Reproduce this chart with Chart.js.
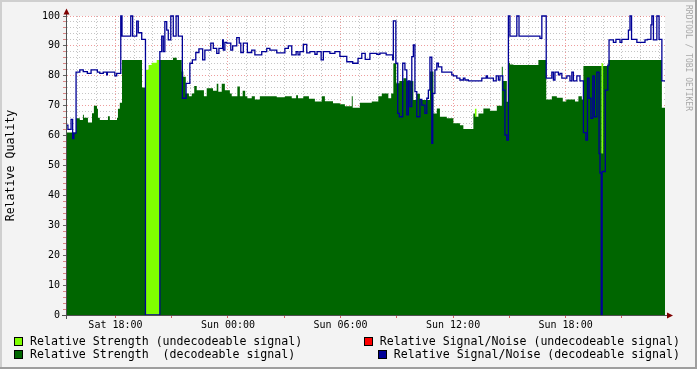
<!DOCTYPE html>
<html><head><meta charset="utf-8">
<script src="https://cdn.jsdelivr.net/npm/chart.js@4/dist/chart.umd.min.js"></script>
<style>
html,body{margin:0;padding:0;background:#F3F3F3;}
#wrap{position:relative;width:697px;height:369px;overflow:hidden;font-family:'DejaVu Sans Mono',monospace;}
canvas{position:absolute;left:0;top:0;}
.leg{position:absolute;display:flex;align-items:center;font-size:11.6px;line-height:13px;white-space:pre;color:#000;}
.box{width:7px;height:7px;border:1px solid #000;margin-right:7px;flex:none;}
#wm{position:absolute;left:684px;top:5px;writing-mode:vertical-rl;font-size:8px;line-height:8px;color:#A8A8A8;white-space:pre;}
</style></head><body>
<div id="wrap"><canvas id="c" width="697" height="369"></canvas>
<div class="leg" style="left:14px;top:335px"><span class="box" style="background:#7FFF00"></span>Relative Strength (undecodeable signal)</div>
<div class="leg" style="left:14px;top:348px"><span class="box" style="background:#006600"></span>Relative Strength  (decodeable signal)</div>
<div class="leg" style="right:17px;top:335px"><span class="box" style="background:#FF0000"></span>Relative Signal/Noise (undecodeable signal)</div>
<div class="leg" style="right:17px;top:348px"><span class="box" style="background:#000096"></span>Relative Signal/Noise (decodeable signal)</div>
<div id="wm">RRDTOOL / TOBI OETIKER</div>
</div>
<script>
// time in minutes since Sat 00:00
const X_MIN = 925, X_MAX = 2838;
const xTickMinutes = [1080, 1440, 1800, 2160, 2520];
const xTickLabels = ['Sat 18:00', 'Sun 00:00', 'Sun 06:00', 'Sun 12:00', 'Sun 18:00'];

const strengthUndecTimes  = [925, 1176, 1186, 1196, 1212, 1222, 2230, 2235, 2635, 2640];
const strengthUndecValues = [0,   82,   83.6, 84.4, 85.3, 0,    69,   0,    84.2, 0];

const strengthDecTimes = [925,954,966,976,979,992,1005,1011,1021,1024,1030,1056,1062,1085,1088,1094,1101,1165,1176,1222,1264,1276,1292,1297,1305,1315,1324,1332,1340,1363,1372,1392,1404,1409,1420,1430,1446,1452,1470,1478,1487,1495,1502,1516,1526,1542,1596,1622,1644,1658,1664,1681,1699,1718,1740,1750,1776,1798,1814,1836,1839,1862,1900,1921,1932,1953,1962,1969,1978,1988,2001,2012,2033,2044,2054,2086,2097,2108,2118,2140,2161,2182,2193,2225,2230,2241,2257,2278,2300,2316,2319,2332,2337,2342,2353,2433,2458,2476,2492,2511,2522,2550,2561,2572,2577,2635,2640,2657,2828];
const strengthDecValues = [61,65.8,65.2,67,66,64.4,67.5,70,69,66,65.2,66.5,65.2,66,69,71,85.3,76.1,0,85.3,86,85.3,81.4,79.7,74.1,73.2,74.1,76.6,75.2,73.2,75.8,75,77.3,74.7,77.3,75.2,74.1,73.2,76.4,73.2,75,73.2,72.5,73.2,72.1,73.2,72.8,73.2,72.5,73.5,72.5,73.2,72.3,71.4,73.2,71.5,70.8,70.5,69.8,73.2,69.3,71,71.4,73.2,74.1,72.5,74.1,84.2,77.5,78.3,79.2,78.3,71.9,74,71.9,81.4,67.4,69.1,66.3,65.8,64.1,63.5,62.2,67.4,66.3,67.4,69.1,68.3,70,83,78.3,71.3,84.4,83.8,83.6,85.3,72.1,73.2,72.7,71.4,72.1,71.4,73.2,72.1,83.3,54,83.3,85.3,69.3];

const snrUndecTimes  = [];
const snrUndecValues = [];

const snrDecTimes = [925,928,938,943,947,954,966,977,990,1002,1022,1030,1041,1052,1054,1078,1084,1097,1101,1129,1135,1148,1153,1164,1176,1222,1228,1233,1238,1244,1249,1257,1265,1274,1281,1294,1306,1318,1326,1337,1347,1359,1366,1385,1393,1404,1411,1423,1425,1430,1436,1449,1455,1468,1476,1481,1489,1502,1516,1526,1548,1564,1574,1596,1622,1633,1644,1658,1664,1670,1681,1692,1702,1718,1725,1738,1745,1766,1782,1798,1820,1839,1856,1868,1879,1894,1916,1926,1946,1967,1969,1977,1983,1988,1999,2006,2012,2017,2022,2028,2033,2038,2044,2054,2060,2070,2076,2081,2086,2092,2095,2102,2108,2113,2124,2156,2161,2172,2182,2193,2198,2209,2252,2266,2270,2289,2298,2305,2310,2319,2326,2332,2337,2342,2364,2371,2438,2444,2458,2476,2481,2486,2497,2502,2508,2524,2534,2540,2545,2556,2566,2577,2585,2590,2595,2601,2607,2612,2620,2627,2630,2634,2637,2647,2655,2659,2673,2681,2694,2700,2721,2726,2731,2748,2774,2782,2793,2796,2801,2812,2819,2828];
const snrDecValues = [63.5,62.1,65.4,59,60.8,81.2,82,81.4,80.8,82,81.2,80.8,81.2,80.3,81.2,80,80.8,100,93.3,100,93.3,98.3,94.4,92.2,0,88.1,93.3,88.1,98.1,95.3,92,100,93.3,100,93.3,72.5,77.5,84.2,85.3,87.8,89,85.3,88.6,90.9,89.2,87.5,89.2,92,88.6,91.2,90.9,88.6,90,92.8,90.9,87.8,90.9,87.8,88.6,87,88.1,89.2,88.6,87.7,89.2,90,87,88.1,87,88.1,90.5,87.7,88.1,87.2,88.1,85.3,88.1,87.5,88.1,86.5,84.7,84.2,85.8,87.5,85.5,87.5,87.2,87.6,87,85.3,98.4,84.2,67.4,66.3,84.2,82,66.9,78.3,69.7,86.4,90.3,74.7,66.3,72.1,70.2,67.4,72.5,75.2,86.2,57.4,74.1,82,84.2,83,81.2,80.3,80,79.2,78.6,79.2,78.6,78.3,79.2,80,79.2,78.3,80,78.6,80,75.2,60.2,58.5,100,93.3,100,93.3,92.5,100,79.2,81.2,78.6,81.2,80.3,80.8,79.2,80,78.3,81.2,78.3,80,78.3,61,58.5,79.2,72.5,65.8,80,66.3,81.2,54,47.5,0,48,75.2,83.6,92,91.2,92.2,91.2,92.2,95.3,100,92.2,91.2,92,92.2,97,100,92,100,92.2,78.3];

function steps(times, values) {
  const pts = times.map((t, i) => ({x: t, y: values[i]}));
  if (pts.length) pts.push({x: X_MAX, y: values[values.length - 1]});
  return pts;
}

const FONT = "'DejaVu Sans Mono', monospace";
Chart.defaults.font.family = FONT;
Chart.defaults.color = '#000';

const GRID_MINOR = 'rgba(140,140,140,0.5)';
const GRID_MAJOR = 'rgba(220,60,60,0.5)';

const framePlugin = {
  id: 'frame',
  beforeDraw(chart) {
    const {ctx, chartArea: a, width, height} = chart;
    ctx.save();
    ctx.fillStyle = '#F3F3F3'; ctx.fillRect(0, 0, width, height);
    ctx.fillStyle = '#FFFFFF'; ctx.fillRect(a.left, a.top, a.right - a.left, a.bottom - a.top);
    ctx.fillStyle = '#CFCFCF'; ctx.fillRect(0, 0, width, 2); ctx.fillRect(0, 0, 2, height);
    ctx.fillStyle = '#9E9E9E'; ctx.fillRect(0, height - 2, width, 2); ctx.fillRect(width - 2, 0, 2, height);
    ctx.restore();
  },
  afterDraw(chart) {
    const {ctx, chartArea: a} = chart;
    ctx.save();
    ctx.strokeStyle = '#505050'; ctx.lineWidth = 1;
    ctx.beginPath();
    ctx.moveTo(a.left - 0.5, a.bottom + 4); ctx.lineTo(a.left - 0.5, a.top - 4);
    ctx.moveTo(a.left - 5, a.bottom + 0.5); ctx.lineTo(a.right + 3, a.bottom + 0.5);
    ctx.stroke();
    ctx.fillStyle = '#7F0000';
    ctx.beginPath();
    ctx.moveTo(a.left - 3.5, a.top - 1.5); ctx.lineTo(a.left + 2.5, a.top - 1.5); ctx.lineTo(a.left - 0.5, a.top - 7.5); ctx.closePath(); ctx.fill();
    ctx.beginPath();
    ctx.moveTo(a.right + 2, a.bottom - 2.5); ctx.lineTo(a.right + 2, a.bottom + 3.5); ctx.lineTo(a.right + 8, a.bottom + 0.5); ctx.closePath(); ctx.fill();
    ctx.restore();
  }
};

const hourTicks = [];
for (let m = Math.ceil(X_MIN / 60) * 60; m <= X_MAX; m += 60) hourTicks.push(m);
const yTicks = [];
for (let v = 0; v <= 100; v += 2) yTicks.push(v);

new Chart(document.getElementById('c'), {
  type: 'line',
  data: {
    datasets: [
      {label: 'Relative Strength (undecodeable signal)', data: steps(strengthUndecTimes, strengthUndecValues), stepped: true, fill: 'origin', backgroundColor: '#7FFF00', borderWidth: 0, borderColor: 'rgba(0,0,0,0)', pointRadius: 0, order: 3},
      {label: 'Relative Strength  (decodeable signal)', data: steps(strengthDecTimes, strengthDecValues), stepped: true, fill: 'origin', backgroundColor: '#006600', borderWidth: 0, borderColor: 'rgba(0,0,0,0)', pointRadius: 0, order: 2},
      {label: 'Relative Signal/Noise (undecodeable signal)', data: steps(snrUndecTimes, snrUndecValues), stepped: true, fill: false, borderColor: '#FF0000', borderWidth: 1.2, pointRadius: 0, order: 1},
      {label: 'Relative Signal/Noise (decodeable signal)', data: steps(snrDecTimes, snrDecValues), stepped: true, fill: false, borderColor: '#000096', borderWidth: 1.3, pointRadius: 0, order: 0, clip: 3}
    ]
  },
  options: {
    responsive: false,
    animation: false,
    devicePixelRatio: 1,
    layout: {padding: {left: 0, right: 32, top: 16, bottom: 34}},
    plugins: {legend: {display: false}, tooltip: {enabled: false}},
    elements: {point: {radius: 0}},
    scales: {
      x: {
        type: 'linear', min: X_MIN, max: X_MAX, z: 1,
        afterFit: s => { s.height = 20; },
        afterBuildTicks: s => { s.ticks = hourTicks.map(v => ({value: v})); },
        ticks: {
          autoSkip: false, maxRotation: 0, padding: 1,
          font: {size: 10, family: FONT}, color: '#000',
          callback: v => { const i = xTickMinutes.indexOf(v); return i >= 0 ? xTickLabels[i] : ''; }
        },
        grid: {
          color: c => (c.tick && c.tick.value % 360 === 0) ? GRID_MAJOR : GRID_MINOR,
          lineWidth: 1, tickLength: 3,
          tickColor: c => (c.tick && c.tick.value % 180 === 0) ? 'rgba(200,60,60,0.8)' : 'rgba(0,0,0,0)'
        },
        border: {display: false, dash: [1, 2]}
      },
      y: {
        type: 'linear', min: 0, max: 100, z: 1,
        afterFit: s => { s.width = 67; },
        afterBuildTicks: s => { s.ticks = yTicks.map(v => ({value: v})); },
        ticks: {
          autoSkip: false, padding: 3,
          font: {size: 10, family: FONT}, color: '#000',
          callback: v => (v % 10 === 0 ? String(v) : '')
        },
        title: {display: true, text: 'Relative Quality', font: {size: 11.6, family: FONT}, color: '#000', padding: {top: 4, bottom: 0}},
        grid: {
          color: c => (c.tick && c.tick.value % 10 === 0) ? GRID_MAJOR : GRID_MINOR,
          lineWidth: 1, tickLength: 4,
          tickColor: c => (c.tick && c.tick.value % 10 === 0) ? '#606060' : 'rgba(200,60,60,0.6)'
        },
        border: {display: false, dash: [1, 2]}
      }
    }
  },
  plugins: [framePlugin]
});
</script>
</body></html>
